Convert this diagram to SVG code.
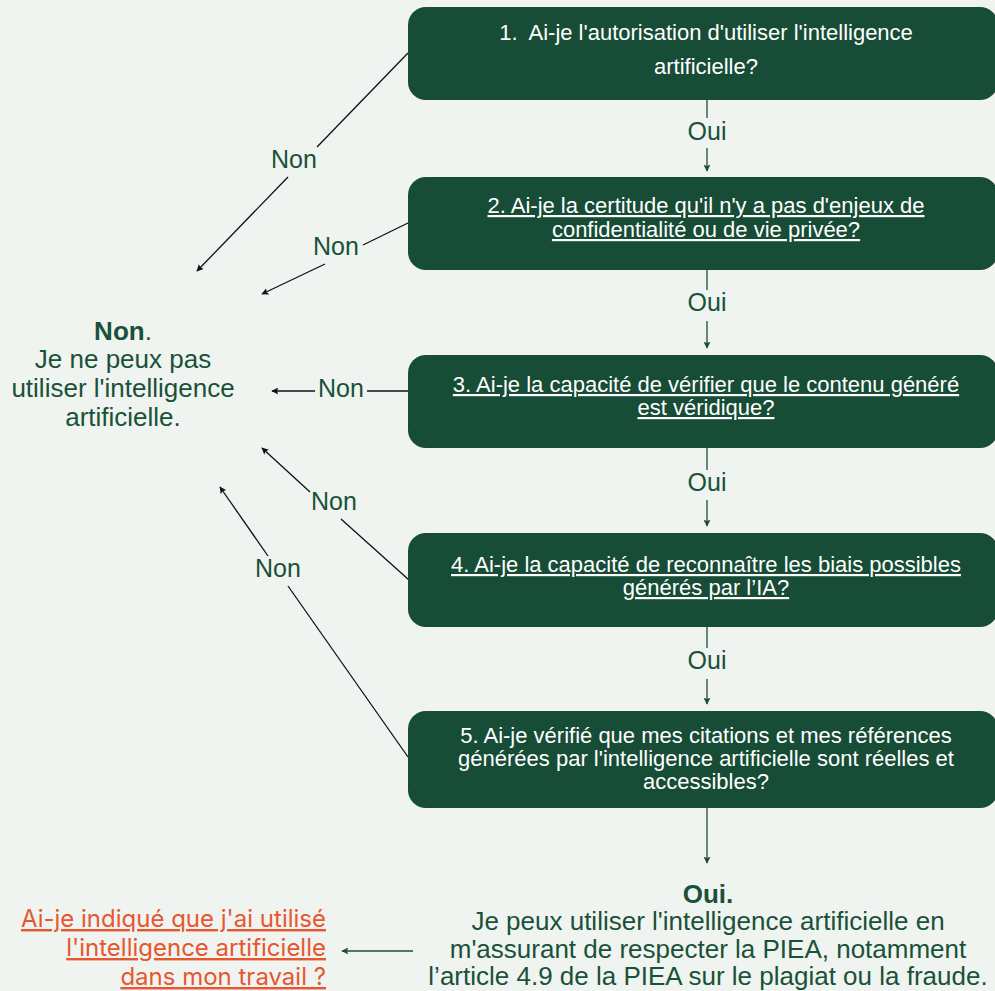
<svg xmlns="http://www.w3.org/2000/svg" width="995" height="991" viewBox="0 0 995 991">
<defs>
<style>
.bg{fill:#eff4f0}
.box{fill:#174c36}
.bt{font-family:"Liberation Sans",Arial,sans-serif;font-size:22px;fill:#ffffff;text-anchor:middle}
.u{text-decoration:underline}
.lbl{font-family:"Liberation Sans",Arial,sans-serif;font-size:25px;fill:#1a5139;text-anchor:middle}
.big{font-family:"Liberation Sans",Arial,sans-serif;font-size:26px;fill:#1a5139;text-anchor:middle}
.or{font-family:Inter,"Liberation Sans",sans-serif;font-size:24px;fill:#e8562f;text-anchor:end;text-decoration:underline}
.k{stroke:#111;stroke-width:1.3;fill:none}
.g{stroke:#1d4d37;stroke-width:1.3;fill:none}
</style>
<marker id="ak" viewBox="0 0 10 10" refX="9" refY="5" markerWidth="7" markerHeight="7" markerUnits="userSpaceOnUse" orient="auto">
<path d="M0,0 L10,5 L0,10 L2,5 z" fill="#111"/>
</marker>
<marker id="ag" viewBox="0 0 10 10" refX="9" refY="5" markerWidth="7" markerHeight="7" markerUnits="userSpaceOnUse" orient="auto">
<path d="M0,0 L10,5 L0,10 L2,5 z" fill="#1d4d37"/>
</marker>
</defs>
<rect class="bg" x="0" y="0" width="995" height="991"/>

<g id="connectors">
<line class="g" x1="707" y1="100" x2="707" y2="118"/>
<line class="g" x1="707" y1="148" x2="707" y2="171" marker-end="url(#ag)"/>
<line class="g" x1="707" y1="270" x2="707" y2="290"/>
<line class="g" x1="707" y1="321" x2="707" y2="348" marker-end="url(#ag)"/>
<line class="g" x1="707" y1="448" x2="707" y2="470"/>
<line class="g" x1="707" y1="500" x2="707" y2="526" marker-end="url(#ag)"/>
<line class="g" x1="707" y1="627" x2="707" y2="648"/>
<line class="g" x1="707" y1="679" x2="707" y2="704" marker-end="url(#ag)"/>
<line class="g" x1="707" y1="808" x2="707" y2="863" marker-end="url(#ag)"/>
<line class="g" x1="413" y1="951" x2="342" y2="951" marker-end="url(#ag)"/>

<line class="k" x1="408" y1="53" x2="317" y2="147"/>
<line class="k" x1="288" y1="177" x2="197" y2="271" marker-end="url(#ak)"/>
<line class="k" x1="408" y1="223" x2="363" y2="245"/>
<line class="k" x1="325" y1="264" x2="262" y2="294" marker-end="url(#ak)"/>
<line class="k" x1="408" y1="391" x2="367" y2="391"/>
<line class="k" x1="315" y1="391" x2="272" y2="391" marker-end="url(#ak)"/>
<line class="k" x1="409" y1="580" x2="341" y2="519"/>
<line class="k" x1="310" y1="492" x2="262" y2="448" marker-end="url(#ak)"/>
<line class="k" x1="408" y1="757" x2="288" y2="586"/>
<line class="k" x1="268" y1="556" x2="220" y2="487" marker-end="url(#ak)"/>

<text class="lbl" x="707" y="140">Oui</text>
<text class="lbl" x="707" y="311">Oui</text>
<text class="lbl" x="707" y="491">Oui</text>
<text class="lbl" x="707" y="669">Oui</text>
<text class="lbl" x="294" y="168">Non</text>
<text class="lbl" x="336" y="255">Non</text>
<text class="lbl" x="341" y="397">Non</text>
<text class="lbl" x="334" y="510">Non</text>
<text class="lbl" x="278" y="577">Non</text>
</g>

<g id="q1">
<rect class="box" x="408" y="7" width="590" height="93" rx="18"/>
<text class="bt" x="706" y="40" xml:space="preserve">1.  Ai-je l'autorisation d'utiliser l'intelligence</text>
<text class="bt" x="706" y="74">artificielle?</text>
</g>
<g id="q2">
<rect class="box" x="408" y="177" width="590" height="93" rx="18"/>
<text class="bt u" x="706" y="213">2. Ai-je la certitude qu'il n'y a pas d'enjeux de</text>
<text class="bt u" x="706" y="237">confidentialité ou de vie privée?</text>
</g>
<g id="q3">
<rect class="box" x="408" y="355" width="590" height="93" rx="18"/>
<text class="bt u" x="706" y="392">3. Ai-je la capacité de vérifier que le contenu généré</text>
<text class="bt u" x="706" y="415">est véridique?</text>
</g>
<g id="q4">
<rect class="box" x="408" y="533" width="590" height="94" rx="18"/>
<text class="bt u" x="706" y="572">4. Ai-je la capacité de reconnaître les biais possibles</text>
<text class="bt u" x="706" y="595">générés par l’IA?</text>
</g>
<g id="q5">
<rect class="box" x="408" y="711" width="590" height="97" rx="18"/>
<text class="bt" x="706" y="743">5. Ai-je vérifié que mes citations et mes références</text>
<text class="bt" x="706" y="766">générées par l'intelligence artificielle sont réelles et</text>
<text class="bt" x="706" y="789">accessibles?</text>
</g>

<g id="non">
<text class="big" x="123" y="340"><tspan font-weight="bold">Non</tspan>.</text>
<text class="big" x="123" y="368">Je ne peux pas</text>
<text class="big" x="123" y="397">utiliser l'intelligence</text>
<text class="big" x="123" y="426">artificielle.</text>
</g>

<g id="oui">
<text class="big" x="708" y="903" font-weight="bold">Oui.</text>
<text class="big" x="708" y="930">Je peux utiliser l'intelligence artificielle en</text>
<text class="big" x="708" y="958">m'assurant de respecter la PIEA, notamment</text>
<text class="big" x="708" y="985">l’article 4.9 de la PIEA sur le plagiat ou la fraude.</text>
</g>

<g id="indique">
<text class="or" x="326" y="927">Ai-je indiqué que j'ai utilisé</text>
<text class="or" x="326" y="956">l'intelligence artificielle</text>
<text class="or" x="326" y="985">dans mon travail ?</text>
</g>
</svg>
